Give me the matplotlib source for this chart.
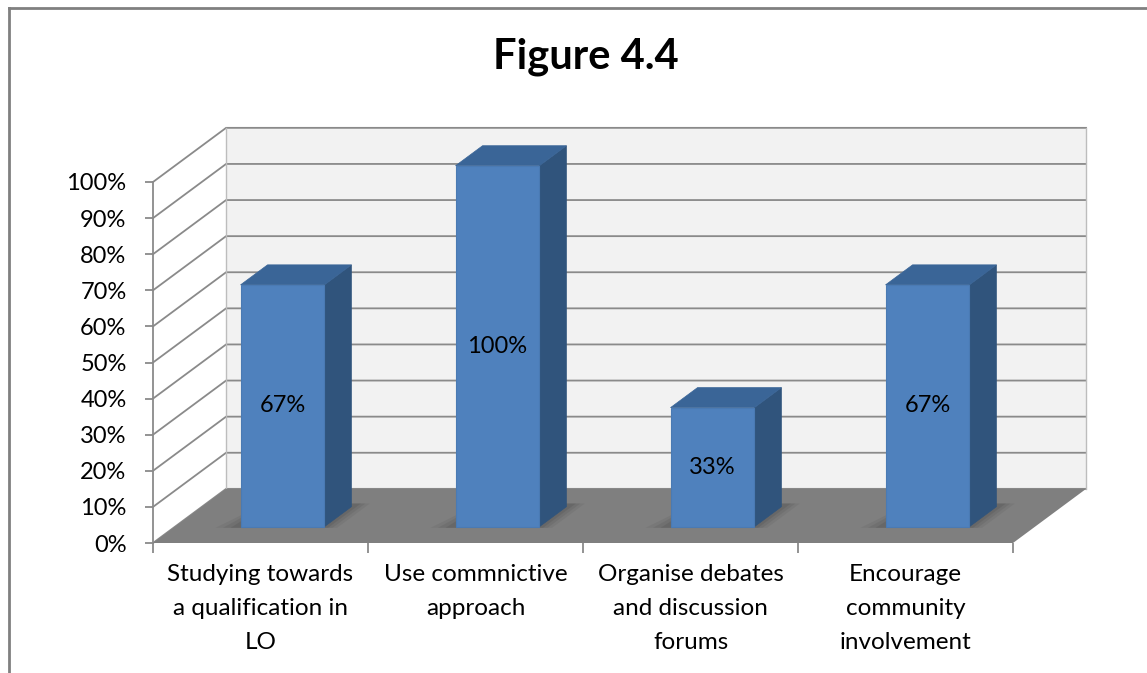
import numpy as np
import matplotlib
matplotlib.use("Agg")
import matplotlib.pyplot as plt
from matplotlib.patches import Polygon
from matplotlib.lines import Line2D
from matplotlib.ticker import FixedLocator

plt.rcParams['font.family'] = ['Lato', 'DejaVu Sans']

# data
categories = ['Studying towards\na qualification in\nLO',
              'Use commnictive\napproach',
              'Organise debates\nand discussion\nforums',
              'Encourage\ncommunity\ninvolvement']
values = [0.67, 1.00, 0.33, 0.67]
value_labels = ['67%', '100%', '33%', '67%']
y_ticks = [i / 10 for i in range(11)]
y_tick_labels = ['%d%%' % (i * 10) for i in range(11)]

# oblique projection for the fake 3d look (in data units)
DX = 0.34     # depth shift in category units
DY = 0.15     # depth shift in value units
bar_w = 0.39
bar_d0, bar_d1 = 0.30, 0.67


def P(x, y, d):
    return (x + d * DX, y + d * DY)


W, H = 1147, 673
fig = plt.figure(figsize=(W / 100, H / 100), dpi=100)
ax = fig.add_axes([153 / W, 130 / H, 860 / W, 361 / H])
n = len(categories)
ax.set_xlim(0, n)
ax.set_ylim(0, 1)
ax.patch.set_visible(False)

grid_c = '#8a8a8a'
# walls
ax.add_patch(Polygon([P(0, 0, 1), P(n, 0, 1), P(n, 1, 1), P(0, 1, 1)],
                     closed=True, fc='#f2f2f2', ec='none', zorder=1, clip_on=False))
ax.add_patch(Polygon([P(0, 0, 0), P(0, 0, 1), P(0, 1, 1), P(0, 1, 0)],
                     closed=True, fc='white', ec='none', zorder=1, clip_on=False))
for v in y_ticks:
    pts = [P(0, v, 0), P(0, v, 1), P(n, v, 1)]
    ax.plot([p[0] for p in pts], [p[1] for p in pts], color=grid_c, lw=1.3,
            zorder=2, clip_on=False, solid_joinstyle='miter')
for xe in (0, n):
    pts = [P(xe, 0, 1), P(xe, 1, 1)]
    ax.plot([p[0] for p in pts], [p[1] for p in pts], color='#bdbdbd', lw=1.0,
            zorder=2, clip_on=False)

# floor
ax.add_patch(Polygon([P(0, 0, 0), P(n, 0, 0), P(n, 0, 1), P(0, 0, 1)],
                     closed=True, fc='#7f7f7f', ec='none', zorder=3, clip_on=False))

# bars
for i, v in enumerate(values):
    x0 = i + 0.5 - bar_w / 2
    x1 = x0 + bar_w
    # soft shadow on the floor
    for k, a in enumerate([0.10, 0.13, 0.17]):
        g = 0.11 - k * 0.035
        sh = [P(x0 - g, 0, bar_d0 - 0.02), P(x1 + g * 0.6, 0, bar_d0 - 0.02),
              P(x1 + g * 0.6, 0, bar_d1 + 0.06), P(x0 - g * 0.3, 0, bar_d1 + 0.06)]
        ax.add_patch(Polygon(sh, closed=True, fc='#404040', ec='none', alpha=a,
                             zorder=4, clip_on=False))
    side = [P(x1, 0, bar_d0), P(x1, 0, bar_d1), P(x1, v, bar_d1), P(x1, v, bar_d0)]
    top = [P(x0, v, bar_d0), P(x1, v, bar_d0), P(x1, v, bar_d1), P(x0, v, bar_d1)]
    front = [P(x0, 0, bar_d0), P(x1, 0, bar_d0), P(x1, v, bar_d0), P(x0, v, bar_d0)]
    ax.add_patch(Polygon(side, closed=True, fc='#30547c', ec='#30547c', lw=0.5,
                         zorder=5, clip_on=False))
    ax.add_patch(Polygon(top, closed=True, fc='#3a6597', ec='#3a6597', lw=0.5,
                         zorder=5, clip_on=False))
    ax.add_patch(Polygon(front, closed=True, fc='#4f81bd', ec='#4a7ab3', lw=0.8,
                         zorder=6, clip_on=False))
    cx, cy = P(i + 0.5, v / 2, bar_d0)
    ax.text(cx, cy, value_labels[i], ha='center', va='center', fontsize=17,
            color='black', zorder=7)

# axes styling
for s in ['top', 'right', 'bottom']:
    ax.spines[s].set_visible(False)
ax.spines['left'].set_color(grid_c)
ax.spines['left'].set_linewidth(1.3)
ax.set_yticks(y_ticks)
ax.set_yticklabels(y_tick_labels, fontsize=17)
ax.tick_params(axis='y', length=6, width=1.3, color=grid_c, pad=13)
ax.set_xticks(range(n + 1))
ax.set_xticklabels([''] * (n + 1))
ax.tick_params(axis='x', which='major', length=7, width=1.3, color=grid_c)
ax.xaxis.set_minor_locator(FixedLocator([i + 0.5 for i in range(n)]))
ax.set_xticklabels(categories, minor=True, fontsize=17.5, linespacing=1.76)
ax.tick_params(axis='x', which='minor', length=0, pad=15)

fig.text(586 / W, 1 - 69 / H, 'Figure 4.4', ha='center', va='baseline',
         fontsize=30, fontweight='bold')

# chart area border
fig.add_artist(Line2D([9 / W, 9 / W], [0, 1 - 8 / H], transform=fig.transFigure,
                      color='#808080', lw=2))
fig.add_artist(Line2D([9 / W, 1], [1 - 8 / H, 1 - 8 / H], transform=fig.transFigure,
                      color='#808080', lw=2))

fig.savefig('out.png', dpi=100)
